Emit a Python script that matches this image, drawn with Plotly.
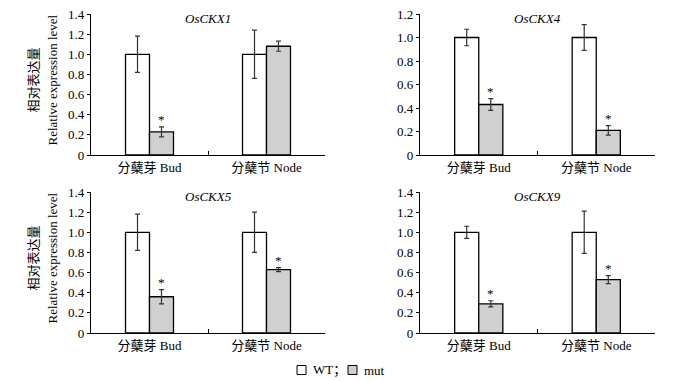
import plotly.graph_objects as go

categories = ["分蘖芽 Bud", "分蘖节 Node"]
genes = ["OsCKX1", "OsCKX4", "OsCKX5", "OsCKX9"]

wt_values = {"OsCKX1": [1.0, 1.0], "OsCKX4": [1.0, 1.0], "OsCKX5": [1.0, 1.0], "OsCKX9": [1.0, 1.0]}
wt_errors = {"OsCKX1": [0.18, 0.24], "OsCKX4": [0.07, 0.11], "OsCKX5": [0.18, 0.20], "OsCKX9": [0.06, 0.21]}
mut_values = {"OsCKX1": [0.23, 1.08], "OsCKX4": [0.43, 0.21], "OsCKX5": [0.36, 0.63], "OsCKX9": [0.29, 0.53]}
mut_errors = {"OsCKX1": [0.05, 0.05], "OsCKX4": [0.05, 0.04], "OsCKX5": [0.07, 0.02], "OsCKX9": [0.03, 0.04]}
significant = {"OsCKX1": [True, False], "OsCKX4": [True, True], "OsCKX5": [True, True], "OsCKX9": [True, True]}
y_max = {"OsCKX1": 1.4, "OsCKX4": 1.2, "OsCKX5": 1.4, "OsCKX9": 1.4}
tick_step = 0.2
legend_labels = ["WT；", "mut"]
ytitle_cn = "相对表达量"
ytitle_en = "Relative expression level"

W, H = 681, 381
FONT = "Liberation Serif, Noto Sans CJK SC, serif"
BARGAP = 0.59
WT_COLOR = "white"
MUT_COLOR = "#d0d0d0"

# panel geometry in pixels (left, right, top, bottom)
panels = [(91, 325, 14, 155), (420, 655, 14, 155), (91, 325, 192, 333), (420, 655, 192, 333)]

fig = go.Figure()
layout = dict(
    width=W, height=H, margin=dict(l=0, r=0, t=0, b=0, autoexpand=False),
    paper_bgcolor="white", plot_bgcolor="white",
    barmode="group", bargap=BARGAP, bargroupgap=0,
    font=dict(family=FONT, size=13, color="black"),
    showlegend=False,
)
annotations = []
shapes = []

for i, g in enumerate(genes):
    l, r, t, b = panels[i]
    xa = "x" if i == 0 else f"x{i+1}"
    ya = "y" if i == 0 else f"y{i+1}"
    xk = "xaxis" if i == 0 else f"xaxis{i+1}"
    yk = "yaxis" if i == 0 else f"yaxis{i+1}"
    fig.add_trace(go.Bar(
        x=categories, y=wt_values[g], name="WT",
        marker=dict(color=WT_COLOR, line=dict(color="black", width=1.3)),
        error_y=dict(type="data", array=wt_errors[g], color="#333333", thickness=1.2, width=2.5),
        xaxis=xa, yaxis=ya))
    fig.add_trace(go.Bar(
        x=categories, y=mut_values[g], name="mut",
        marker=dict(color=MUT_COLOR, line=dict(color="black", width=1.3)),
        error_y=dict(type="data", array=mut_errors[g], color="#333333", thickness=1.2, width=2.5),
        xaxis=xa, yaxis=ya))

    n = int(round(y_max[g] / tick_step))
    tv = [k * tick_step for k in range(n + 1)]
    tt = ["0"] + [f"{v:.1f}" for v in tv[1:]]
    layout[xk] = dict(
        domain=[l / W, r / W], anchor=ya, type="category", range=[-0.5, 1.5],
        showline=True, linecolor="black", linewidth=1.2, ticks="inside", tickson="boundaries",
        ticklen=4, tickcolor="black", showgrid=False, automargin=False,
        tickfont=dict(size=13, family=FONT, color="black"))
    layout[yk] = dict(
        domain=[1 - b / H, 1 - t / H], anchor=xa, range=[0, y_max[g]],
        tickvals=tv, ticktext=tt, showline=True, linecolor="black", linewidth=1.2,
        ticks="outside", ticklen=3, tickcolor="black", showgrid=False, zeroline=False,
        automargin=False, tickfont=dict(size=13, family=FONT, color="black"))
    annotations.append(dict(
        text=f"<i>{g}</i>", xref="paper", yref="paper", x=(l + r) / 2 / W, y=1 - (t + 4) / H,
        xanchor="center", yanchor="middle", showarrow=False,
        font=dict(size=13, family=FONT, color="black")))
    if i in (0, 2):
        yc = (t + b) / 2 - 4
        for txt, xp in ((ytitle_cn, 33), (ytitle_en, 52)):
            annotations.append(dict(
                text=txt, xref="paper", yref="paper", x=xp / W, y=1 - yc / H, textangle=-90,
                xanchor="center", yanchor="middle", showarrow=False,
                font=dict(size=13, family=FONT, color="black")))
    off = (1 - BARGAP) / 4
    for j, c in enumerate(categories):
        if significant[g][j]:
            annotations.append(dict(
                text="*", xref=xa, yref=ya, x=j + off, y=mut_values[g][j] + mut_errors[g][j],
                xanchor="center", yanchor="bottom", yshift=-2, showarrow=False,
                font=dict(size=13, family="Liberation Serif", color="black")))

# manual legend
leg_y = 370
leg_items = [(297, WT_COLOR, legend_labels[0]), (348, MUT_COLOR, legend_labels[1])]
for x0, col, lab in leg_items:
    shapes.append(dict(type="rect", xref="paper", yref="paper",
                       x0=x0 / W, x1=(x0 + 9) / W, y0=1 - (leg_y + 4.5) / H, y1=1 - (leg_y - 4.5) / H,
                       fillcolor=col, line=dict(color="black", width=1)))
    annotations.append(dict(text=lab, xref="paper", yref="paper", x=(x0 + 14) / W, y=1 - leg_y / H,
                            xanchor="left", yanchor="middle", showarrow=False,
                            font=dict(size=13, family=FONT, color="black")))

layout["annotations"] = annotations
layout["shapes"] = shapes
fig.update_layout(**layout)
fig.write_html("out.html", config={"displayModeBar": False},
               post_script="document.body.style.margin='0';document.body.style.overflow='hidden';")
